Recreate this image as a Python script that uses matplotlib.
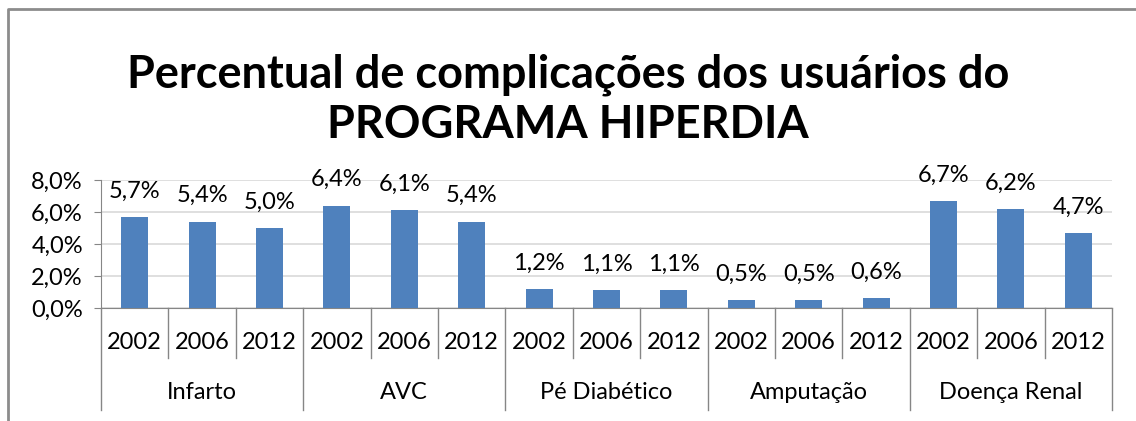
import matplotlib
matplotlib.use("Agg")
import matplotlib.pyplot as plt
from matplotlib.lines import Line2D

# data
groups = ["Infarto", "AVC", "Pé Diabético", "Amputação", "Doença Renal"]
years = ["2002", "2006", "2012"]
infarto = [5.7, 5.4, 5.0]
avc = [6.4, 6.1, 5.4]
pe_diabetico = [1.2, 1.1, 1.1]
amputacao = [0.5, 0.5, 0.6]
doenca_renal = [6.7, 6.2, 4.7]
yticks = [0, 2, 4, 6, 8]

series = [infarto, avc, pe_diabetico, amputacao, doenca_renal]
values = [v for s in series for v in s]
labels = [y for g in groups for y in years]

plt.rcParams['font.family'] = ['Lato', 'DejaVu Sans']

W, H = 1136, 421
fig = plt.figure(figsize=(W / 100, H / 100), dpi=100)

# outer chart border, only left and top are inside the picture
bx, by = 8 / W, 1 - 9 / H
fig.lines.append(Line2D([bx, bx, 1.0], [0.0, by, by], transform=fig.transFigure,
                        color="#8c8c8c", linewidth=2))

ax = fig.add_axes([101 / W, (H - 308) / H, (1112 - 101) / W, 128 / H])

grey = "#868686"
n = len(values)
xs = [i + 0.5 for i in range(n)]
ax.bar(xs, values, width=0.4, color="#4F81BD", zorder=3)

fs = 17
for x, v in zip(xs, values):
    ax.annotate(f"{v:.1f}%".replace(".", ","), (x, v), xytext=(0, 11), textcoords="offset points",
                ha="center", va="bottom", fontsize=fs, annotation_clip=False)

ax.set_xlim(0, n)
ax.set_ylim(0, 8)
ax.set_yticks(yticks)
ax.set_yticklabels([f"{t:.1f}%".replace(".", ",") for t in yticks], fontsize=fs)
ax.yaxis.grid(True, color="#d9d9d9", linewidth=1.2, zorder=0)
ax.tick_params(axis="y", length=5, color=grey, pad=8)
ax.set_xticks([])
for s in ["top", "right"]:
    ax.spines[s].set_visible(False)
ax.spines["left"].set_color(grey)
ax.spines["bottom"].set_color(grey)

tr = ax.get_xaxis_transform()
for i in range(n + 1):
    low = -0.797 if i % 3 == 0 else -0.39
    ax.plot([i, i], [0, low], color=grey, linewidth=1, transform=tr, clip_on=False)
for x, lab in zip(xs, labels):
    ax.text(x, -0.266, lab, transform=tr, ha="center", va="center", fontsize=fs)
for k, g in enumerate(groups):
    ax.text(3 * k + 1.5, -0.664, g, transform=tr, ha="center", va="center", fontsize=fs)

fig.text(0.5, (H - 75) / H, "Percentual de complicações dos usuários do", ha="center", va="center",
         fontsize=32.5, fontweight="bold")
fig.text(0.5, (H - 125) / H, "PROGRAMA HIPERDIA", ha="center", va="center",
         fontsize=32.5, fontweight="bold")

fig.savefig("out.png", dpi=100)
